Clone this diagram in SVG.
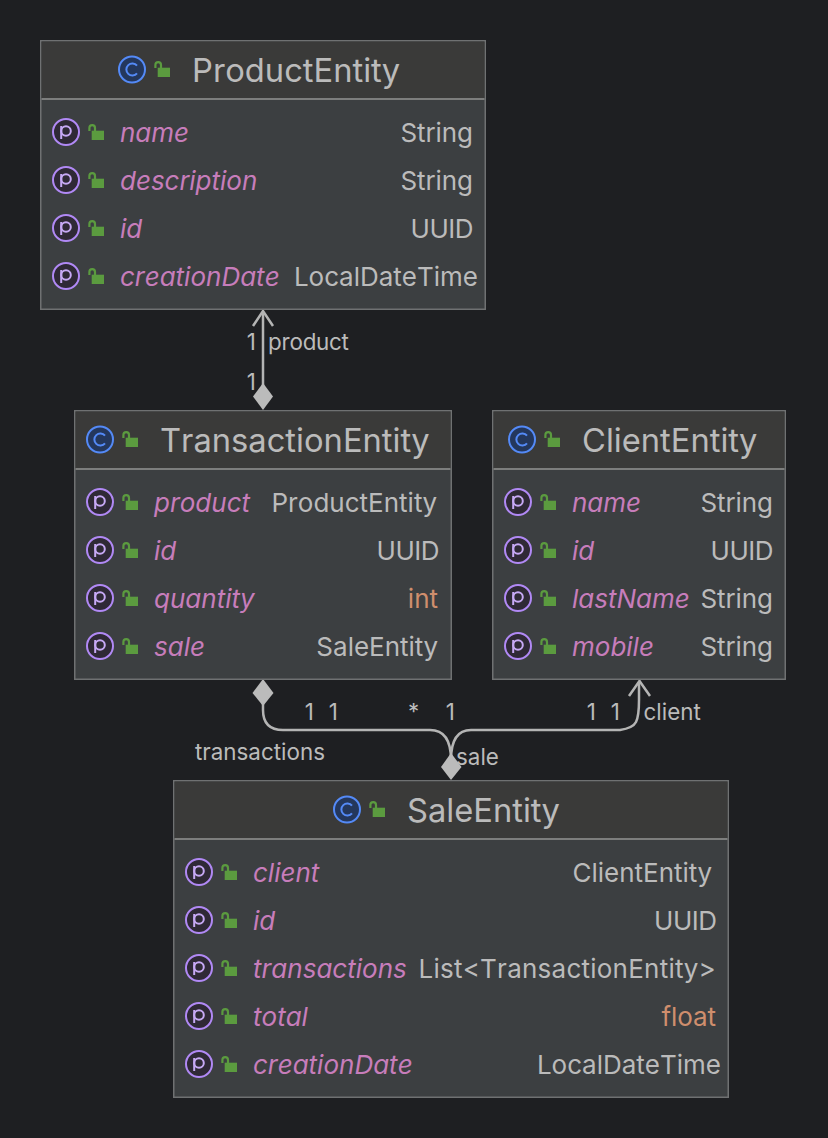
<svg xmlns="http://www.w3.org/2000/svg" xmlns:xlink="http://www.w3.org/1999/xlink" width="828" height="1138" viewBox="0 0 828 1138">
<style>
text{font-family:Inter,"Noto Sans","Liberation Sans",sans-serif;fill:#bbbbbb;font-kerning:none}
.t{font-size:32.7px}
.r{font-size:26px}
.e{text-anchor:end}
.n{font-style:italic;fill:#c77dbb}
.o{fill:#cf8e6d}
.u{letter-spacing:-0.5px}
.l{font-size:22.4px}
.box{fill:#3c3f41;stroke:#6f7172;stroke-width:1.5}
.hd{fill:#3a3a39}
.sep{stroke:#7d7e7d;stroke-width:2}
.wire{fill:none;stroke:#b4b4b4;stroke-width:2.5}
.dia{fill:#bbbbbb}
</style>
<defs>
<g id="lock"><rect x="3.700" y="2.700" width="12.300" height="9.300" fill="#5b9b3f"/><path d="M1.400 3V0a2.800 2.800 0 0 1 5.600 0V3" fill="none" stroke="#5b9b3f" stroke-width="2.200"/></g>
<g id="c"><circle r="13" fill="#24375c" stroke="#548af7" stroke-width="2"/><path d="M5 -3.800A6 6 0 1 0 5 3.800" fill="none" stroke="#548af7" stroke-width="2"/></g>
<g id="p"><circle r="13" fill="#2f2936" stroke="#b189f5" stroke-width="2"/><circle cx="0" cy="-1" r="4.800" fill="none" stroke="#c7a9f5" stroke-width="2"/><path d="M-4.800 -6V7" stroke="#c7a9f5" stroke-width="2"/></g>
</defs>
<rect width="828" height="1138" fill="#1e1f22"/>
<g id="connectors">
<path class="wire" d="M263 312V390"/>
<path class="wire" d="M253 326L263 311L273 326"/>
<path class="dia" d="M263 383L273 396.500L263 410L253 396.500Z"/>
<path class="wire" d="M263 700V710Q263 730 283 730H430Q451 730 451 760"/>
<path class="dia" d="M263 679L273.500 693L263 706L252.500 693Z"/>
<path class="wire" d="M451 760Q451 730 471 730H620Q633 728 636 722Q639 716 639 700V682"/>
<path class="wire" d="M629 696L639.500 681L650 696"/>
<path class="dia" d="M451 753L461.500 767L451 780L441 767Z"/>
<text class="l" x="246.800" y="350">1</text>
<text class="l" x="268" y="350" letter-spacing="-0.3">product</text>
<text class="l" x="246.800" y="390">1</text>
<text class="l" x="304.800" y="720">1</text>
<text class="l" x="328.800" y="720">1</text>
<text class="l" x="408" y="720">*</text>
<text class="l" x="445.800" y="720">1</text>
<text class="l" x="586.800" y="720">1</text>
<text class="l" x="610.800" y="720">1</text>
<text class="l" x="643.500" y="720">client</text>
<text class="l" x="195" y="760">transactions</text>
<text class="l" x="456" y="765">sale</text>
</g>
<g id="ProductEntity">
<rect class="box" x="40.750" y="40.750" width="444.500" height="268.500"/>
<rect class="hd" x="41.500" y="41.500" width="443" height="57"/>
<path class="sep" d="M41.500 99H484.500"/>
<use xlink:href="#c" href="#c" x="132" y="69.500"/>
<use xlink:href="#lock" href="#lock" x="154" y="65"/>
<text class="t" x="192" y="82">ProductEntity</text>
<use xlink:href="#p" href="#p" x="66" y="132"/><use xlink:href="#lock" href="#lock" x="88" y="128"/>
<text class="r n" x="120" y="142">name</text><text class="r e" x="473" y="142">String</text>
<use xlink:href="#p" href="#p" x="66" y="180"/><use xlink:href="#lock" href="#lock" x="88" y="176"/>
<text class="r n" x="120" y="190">description</text><text class="r e" x="473" y="190">String</text>
<use xlink:href="#p" href="#p" x="66" y="228"/><use xlink:href="#lock" href="#lock" x="88" y="224"/>
<text class="r n" x="120" y="238">id</text><text class="r e u" x="473" y="238">UUID</text>
<use xlink:href="#p" href="#p" x="66" y="276"/><use xlink:href="#lock" href="#lock" x="88" y="272"/>
<text class="r n" x="120" y="286">creationDate</text><text class="r e" x="478" y="286">LocalDateTime</text>
</g>
<g id="TransactionEntity">
<rect class="box" x="74.750" y="410.750" width="376.500" height="268.500"/>
<rect class="hd" x="75.500" y="411.500" width="375" height="57"/>
<path class="sep" d="M75.500 469H450.500"/>
<use xlink:href="#c" href="#c" x="100" y="439.500"/>
<use xlink:href="#lock" href="#lock" x="122" y="435"/>
<text class="t" x="160" y="452">TransactionEntity</text>
<use xlink:href="#p" href="#p" x="100" y="502"/><use xlink:href="#lock" href="#lock" x="122" y="498"/>
<text class="r n" x="154" y="512">product</text><text class="r e" x="437" y="512">ProductEntity</text>
<use xlink:href="#p" href="#p" x="100" y="550"/><use xlink:href="#lock" href="#lock" x="122" y="546"/>
<text class="r n" x="154" y="560">id</text><text class="r e u" x="439" y="560">UUID</text>
<use xlink:href="#p" href="#p" x="100" y="598"/><use xlink:href="#lock" href="#lock" x="122" y="594"/>
<text class="r n" x="154" y="608">quantity</text><text class="r e o" x="438" y="608">int</text>
<use xlink:href="#p" href="#p" x="100" y="646"/><use xlink:href="#lock" href="#lock" x="122" y="642"/>
<text class="r n" x="154" y="656">sale</text><text class="r e" x="438" y="656">SaleEntity</text>
</g>
<g id="ClientEntity">
<rect class="box" x="492.750" y="410.750" width="292.500" height="268.500"/>
<rect class="hd" x="493.500" y="411.500" width="291" height="57"/>
<path class="sep" d="M493.500 469H784.500"/>
<use xlink:href="#c" href="#c" x="522" y="439.500"/>
<use xlink:href="#lock" href="#lock" x="544" y="435"/>
<text class="t" x="582" y="452">ClientEntity</text>
<use xlink:href="#p" href="#p" x="518" y="502"/><use xlink:href="#lock" href="#lock" x="540" y="498"/>
<text class="r n" x="572" y="512">name</text><text class="r e" x="773" y="512">String</text>
<use xlink:href="#p" href="#p" x="518" y="550"/><use xlink:href="#lock" href="#lock" x="540" y="546"/>
<text class="r n" x="572" y="560">id</text><text class="r e u" x="773" y="560">UUID</text>
<use xlink:href="#p" href="#p" x="518" y="598"/><use xlink:href="#lock" href="#lock" x="540" y="594"/>
<text class="r n" x="572" y="608">lastName</text><text class="r e" x="773" y="608">String</text>
<use xlink:href="#p" href="#p" x="518" y="646"/><use xlink:href="#lock" href="#lock" x="540" y="642"/>
<text class="r n" x="572" y="656">mobile</text><text class="r e" x="773" y="656">String</text>
</g>
<g id="SaleEntity">
<rect class="box" x="173.750" y="780.750" width="554.500" height="316.500"/>
<rect class="hd" x="174.500" y="781.500" width="553" height="57"/>
<path class="sep" d="M174.500 839H727.500"/>
<use xlink:href="#c" href="#c" x="347" y="809.500"/>
<use xlink:href="#lock" href="#lock" x="369" y="805"/>
<text class="t" x="407" y="822">SaleEntity</text>
<use xlink:href="#p" href="#p" x="199" y="872"/><use xlink:href="#lock" href="#lock" x="221" y="868"/>
<text class="r n" x="253" y="882">client</text><text class="r e" x="712" y="882">ClientEntity</text>
<use xlink:href="#p" href="#p" x="199" y="920"/><use xlink:href="#lock" href="#lock" x="221" y="916"/>
<text class="r n" x="253" y="930">id</text><text class="r e u" x="716.500" y="930">UUID</text>
<use xlink:href="#p" href="#p" x="199" y="968"/><use xlink:href="#lock" href="#lock" x="221" y="964"/>
<text class="r n" x="253" y="978">transactions</text><text class="r e" x="716" y="978" letter-spacing="0.24">List&lt;TransactionEntity&gt;</text>
<use xlink:href="#p" href="#p" x="199" y="1016"/><use xlink:href="#lock" href="#lock" x="221" y="1012"/>
<text class="r n" x="253" y="1026">total</text><text class="r e o" x="716" y="1026">float</text>
<use xlink:href="#p" href="#p" x="199" y="1064"/><use xlink:href="#lock" href="#lock" x="221" y="1060"/>
<text class="r n" x="253" y="1074">creationDate</text><text class="r e" x="721" y="1074">LocalDateTime</text>
</g>
</svg>
